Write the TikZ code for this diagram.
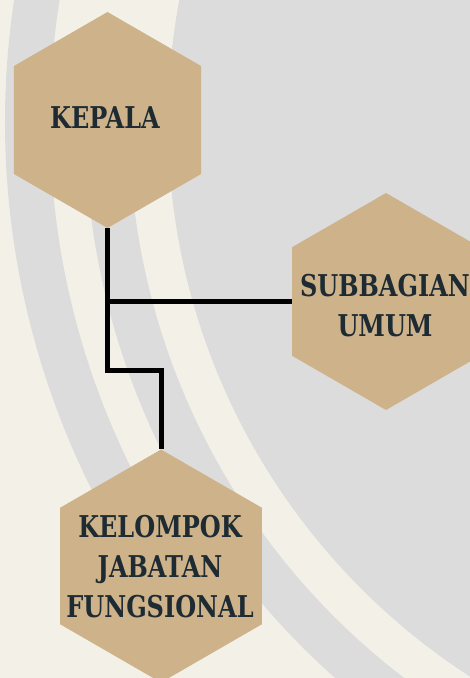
\documentclass[tikz,border=0pt]{standalone}
\usepackage{fontspec}
\setmainfont{DejaVu Serif}[FakeStretch=0.8]
\usepackage{tikz}
\usetikzlibrary{shapes.geometric}

\definecolor{paper}{HTML}{F3F1E7}
\definecolor{arcgrey}{HTML}{DCDCDC}
\definecolor{hexfill}{HTML}{CDB28A}
\definecolor{ink}{HTML}{1E2B33}

\begin{document}
\begin{tikzpicture}[x=1pt,y=-1pt,
    hexa/.style={regular polygon,regular polygon sides=6,shape border rotate=30,
        fill=hexfill,inner sep=0pt},
    hextext/.style={text=ink,align=center,inner sep=0pt,
        font=\fontsize{30}{40}\selectfont\bfseries},
    link/.style={line width=5pt}]
    \useasboundingbox (0,0) rectangle (470,678);
    \clip (0,0) rectangle (470,678);
    \fill[paper] (0,0) rectangle (470,678);

    \coordinate (o) at (828,122);
    \fill[arcgrey] (o) circle[radius=660];
    \draw[arcgrey,line width=44pt] (o) ++(120:721)
        arc[start angle=120,end angle=182,radius=721];
    \draw[arcgrey,line width=45pt] (o) ++(144:800.5)
        arc[start angle=144,end angle=200,radius=800.5];

    \node[hexa,minimum size=216pt] (kepala) at (107.5,120) {};
    \node[hexa,minimum size=217pt] (subbagian) at (386,301.5) {};
    \node[hexa,minimum size=233pt] (kelompok) at (161,566) {};

    \node[hextext] (kepala label) at (105,118) {KEPALA};
    \node[hextext] (subbagian label) at (385,305.5) {SUBBAGIAN\\UMUM};
    \node[hextext] (kelompok label) at (160,566.5)
        {KELOMPOK\\JABATAN\\FUNGSIONAL};

    \coordinate (bend) at (107.5,370);
    \draw[link] (kepala.270) -- (bend) -| (kelompok.90);
    \draw[link] (kepala.270 |- subbagian.180) -- (subbagian.180);
\end{tikzpicture}
\end{document}
